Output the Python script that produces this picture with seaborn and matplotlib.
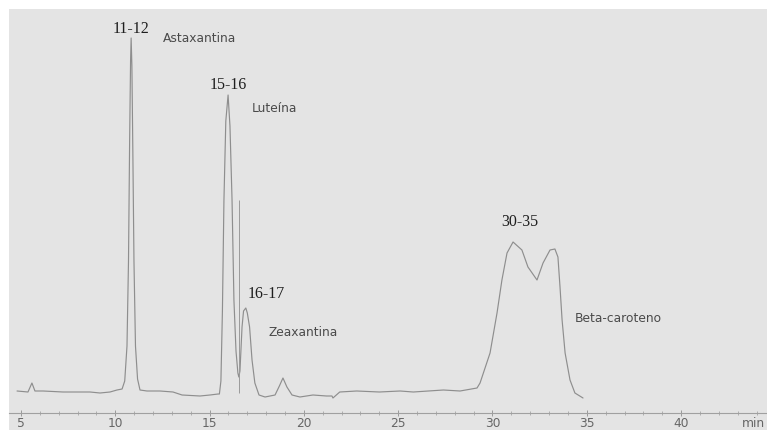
import matplotlib
matplotlib.use("Agg")
import matplotlib.pyplot as plt
from matplotlib.patches import Rectangle
from matplotlib.ticker import MultipleLocator
import seaborn as sns
import pandas as pd

# Retention time (min) and detector signal (arbitrary units) of the trace
time_min = [
    4.79, 5.37, 5.58, 5.74, 6.17, 7.23, 8.29, 8.66, 9.19, 9.72, 10.09, 10.36,
    10.50, 10.62, 10.70, 10.76, 10.81, 10.84, 10.88, 10.93, 10.99, 11.07, 11.18,
    11.31, 11.68, 12.37, 13.06, 13.54, 14.49, 15.02, 15.45,
    15.52, 15.60, 15.68, 15.76, 15.86, 15.98, 16.08, 16.19, 16.29, 16.40, 16.50,
    16.55, 16.61, 16.66, 16.72, 16.80, 16.92, 17.00, 17.12, 17.25, 17.40, 17.62,
    17.94, 18.47, 18.70, 18.89, 19.10, 19.37, 19.79, 20.48, 21.20, 21.49, 21.54,
    21.90, 22.80, 24.00, 25.10, 25.80, 26.60, 27.40, 28.28, 29.18,
    29.34, 29.87, 30.24, 30.50, 30.77, 31.09, 31.56, 31.88, 32.36, 32.68, 33.05,
    33.31, 33.47, 33.58, 33.69, 33.85, 34.11, 34.37, 34.80,
]
signal = [
    0, -1, 8, 0, 0, -1, -1, -1, -2, -1, 1, 2,
    10, 45, 130, 250, 330, 353, 325, 240, 130, 45, 12,
    1, 0, 0, -1, -4, -5, -4, -3,
    -3, 10, 80, 190, 270, 296, 265, 191, 91, 40, 18,
    14, 20, 40, 64, 80, 83, 78, 64, 31, 8, -4,
    -6, -4, 5, 13, 4, -4, -6, -4, -5, -5, -7,
    -1, 0, -1, 0, -1, 0, 1, 0, 3,
    8, 38, 78, 111, 138, 149, 141, 124, 111, 128, 141,
    142, 134, 104, 71, 38, 11, -2, -7,
]

# Valley drop line between lutein and zeaxanthin
drop_time = 16.55
drop_bottom = -2
drop_top = 191

# Peak annotations: time window, compound name and their positions
range_labels = ["11-12", "15-16", "16-17", "30-35"]
range_x = [10.83, 15.98, 17.99, 31.46]
range_y = [362, 306, 97, 169]
compound_names = ["Astaxantina", "Luteína", "Zeaxantina", "Beta-caroteno"]
name_x = [12.53, 17.25, 18.10, 34.37]
name_y = [353, 282, 59, 72]

x_ticks = [5, 10, 15, 20, 25, 30, 35, 40]

df = pd.DataFrame({"time": time_min, "signal": signal})

sns.set_theme(style="white")
fig = plt.figure(figsize=(7.67, 4.30), dpi=100, facecolor="white")

# grey plotting panel with a white strip on top and left
panel = Rectangle((9 / 767, 0), 1 - 9 / 767, 1 - 9 / 430,
                  transform=fig.transFigure, facecolor="#e4e4e4",
                  edgecolor="none", zorder=-10)
fig.patches.append(panel)

ax = fig.add_axes([9 / 767, 17 / 430, 758 / 767, 404 / 430])
ax.set_facecolor("none")
ax.set_zorder(1)

sns.lineplot(data=df, x="time", y="signal", ax=ax, color="#8e8e8e",
             linewidth=0.85, sort=False, estimator=None)
ax.vlines(drop_time, drop_bottom, drop_top, color="#9a9a9a", linewidth=0.7)

ax.set_xlim(4.364, 44.555)
ax.set_ylim(-22, 382)
ax.set_xlabel("")
ax.set_ylabel("")
ax.set_yticks([])
ax.set_xticks(x_ticks)
ax.set_xticklabels([str(t) for t in x_ticks])
ax.xaxis.set_minor_locator(MultipleLocator(1))
ax.tick_params(axis="x", which="major", direction="inout", length=5, width=0.7,
               color="#9a9a9a", labelsize=8.8, labelcolor="#666666", pad=0.5,
               bottom=True)
ax.tick_params(axis="x", which="minor", direction="inout", length=3, width=0.6,
               color="#a5a5a5", bottom=True)
for side in ["left", "right", "top"]:
    ax.spines[side].set_visible(False)
ax.spines["bottom"].set_color("#a0a0a0")
ax.spines["bottom"].set_linewidth(0.8)

# time unit written at the right end of the axis
ax.text(43.2, -0.01, "min", transform=ax.get_xaxis_transform(),
        ha="left", va="top", fontsize=8.8, color="#666666")

for lab, x, y in zip(range_labels, range_x, range_y):
    ax.text(x, y, lab, ha="center", va="center", fontsize=11.5,
            family="Liberation Serif", color="#1e1e1e")
for lab, x, y in zip(compound_names, name_x, name_y):
    ax.text(x, y, lab, ha="left", va="center", fontsize=8.8,
            family="DejaVu Sans", color="#4a4a4a")

fig.savefig("out.png", dpi=100, facecolor="white")
